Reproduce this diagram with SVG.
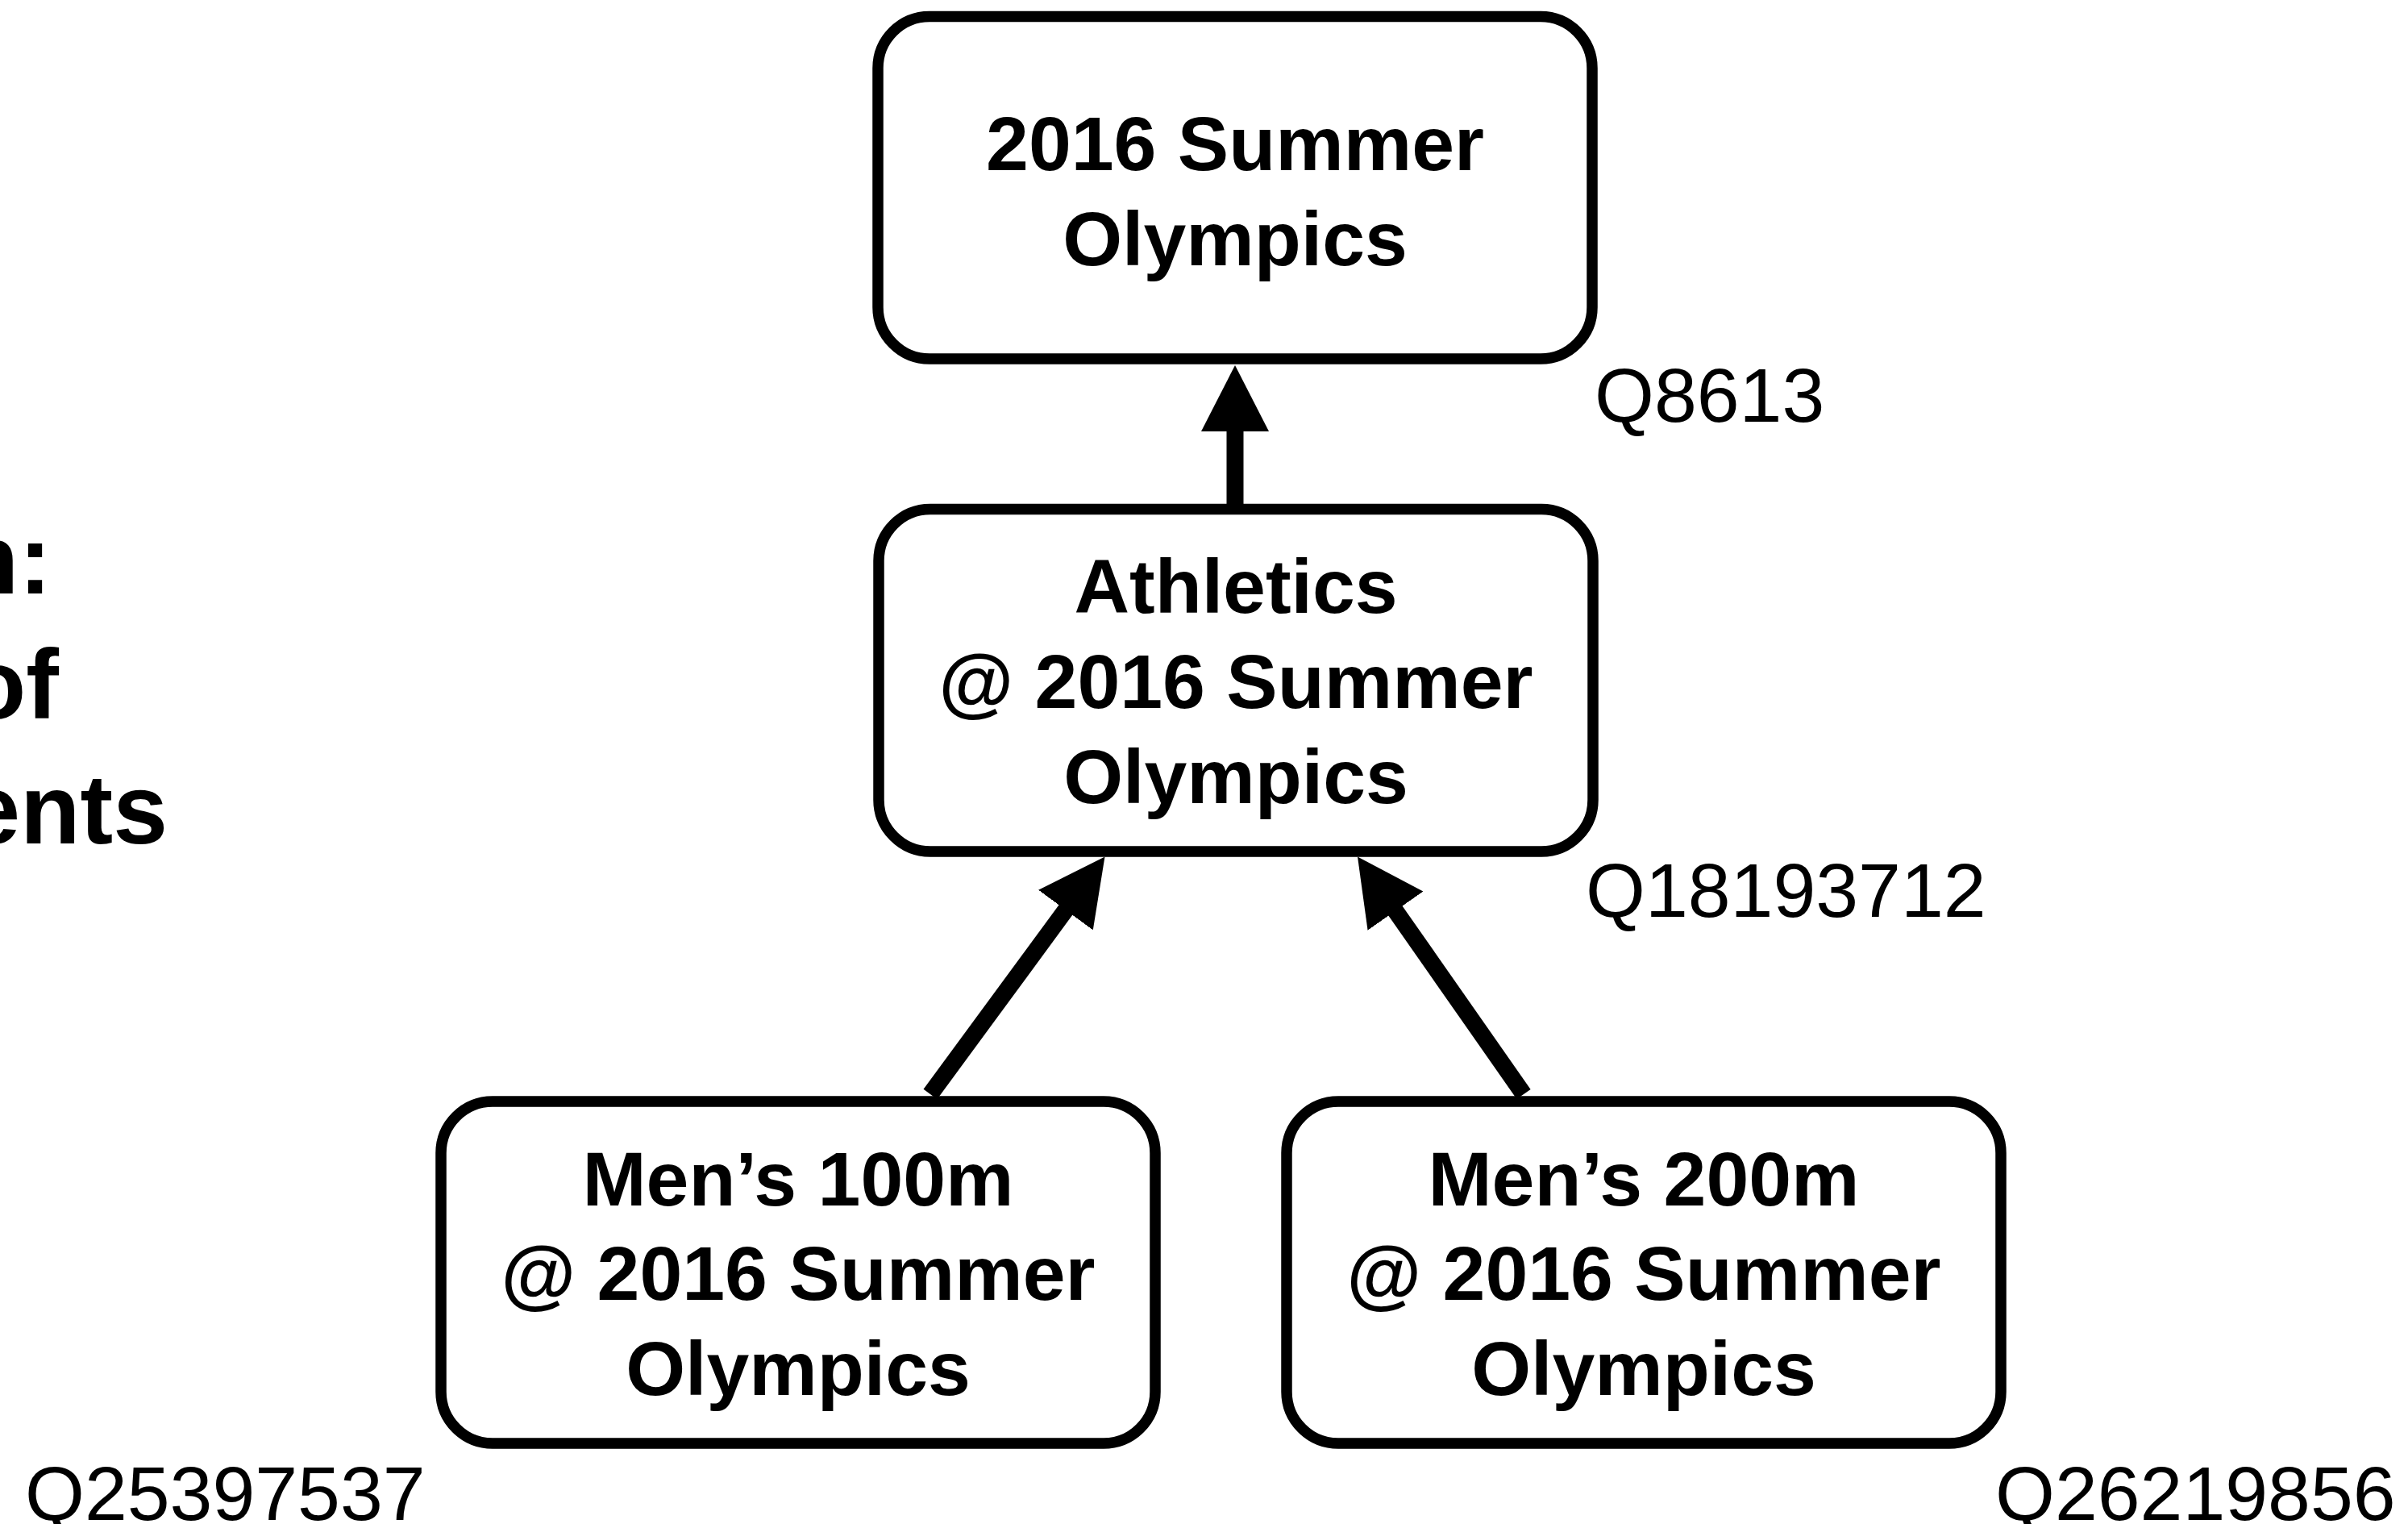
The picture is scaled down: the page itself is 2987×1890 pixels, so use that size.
<svg xmlns="http://www.w3.org/2000/svg" width="2987" height="1890" viewBox="0 0 2987 1890">
  <style>
    .box { fill: #ffffff; stroke: #000000; stroke-width: 13.5; }
    .lbl { font-family: "Liberation Sans", Arial, sans-serif; font-weight: bold; font-size: 95px; fill: #000000; text-anchor: middle; }
    .qid { font-family: "Liberation Sans", Arial, sans-serif; font-weight: 300; font-size: 95px; fill: #000000; }
    .side { font-family: "Liberation Sans", Arial, sans-serif; font-weight: bold; font-size: 122px; fill: #000000; text-anchor: end; }
    .edge { stroke: #000000; stroke-width: 21; fill: none; marker-end: url(#ah); }
  </style>
  <defs>
    <marker id="ah" markerUnits="userSpaceOnUse" markerWidth="90" markerHeight="90" viewBox="0 -45 90 90" refX="2" refY="0" orient="auto">
      <path d="M0,-42 L82,0 L0,42 Z" fill="#000000"/>
    </marker>
  </defs>
  <rect width="2987" height="1890" fill="#ffffff"/>

  <g id="side-text">
    <text class="side" x="64" y="736">n:</text>
    <text class="side" x="73" y="891">of</text>
    <text class="side" x="208" y="1046">ents</text>
  </g>

  <g id="connectors">
    <line class="edge" x1="1532" y1="625" x2="1532" y2="533"/>
    <line class="edge" x1="1154" y1="1357" x2="1323.1" y2="1126.9"/>
    <line class="edge" x1="1890" y1="1357" x2="1729.85" y2="1127.96"/>
  </g>

  <g id="node-olympics">
    <rect class="box" x="1089" y="20.5" width="886" height="424.5" rx="64" ry="64"/>
    <text class="lbl" x="1532" y="211">2016 Summer</text>
    <text class="lbl" x="1532" y="329">Olympics</text>
    <text class="qid" x="1978" y="523">Q8613</text>
  </g>

  <g id="node-athletics">
    <rect class="box" x="1090" y="631.5" width="886" height="424.5" rx="64" ry="64"/>
    <text class="lbl" x="1533" y="760">Athletics</text>
    <text class="lbl" x="1533" y="878">@ 2016 Summer</text>
    <text class="lbl" x="1533" y="996">Olympics</text>
    <text class="qid" x="1967" y="1137">Q18193712</text>
  </g>

  <g id="node-men100">
    <rect class="box" x="547" y="1366" width="886" height="424" rx="64" ry="64"/>
    <text class="lbl" x="990" y="1495">Men’s 100m</text>
    <text class="lbl" x="990" y="1612">@ 2016 Summer</text>
    <text class="lbl" x="990" y="1730">Olympics</text>
    <text class="qid" x="31" y="1885">Q25397537</text>
  </g>

  <g id="node-men200">
    <rect class="box" x="1596" y="1366" width="886" height="424" rx="64" ry="64"/>
    <text class="lbl" x="2039" y="1495">Men’s 200m</text>
    <text class="lbl" x="2039" y="1612">@ 2016 Summer</text>
    <text class="lbl" x="2039" y="1730">Olympics</text>
    <text class="qid" x="2475" y="1885">Q26219856</text>
  </g>
</svg>
